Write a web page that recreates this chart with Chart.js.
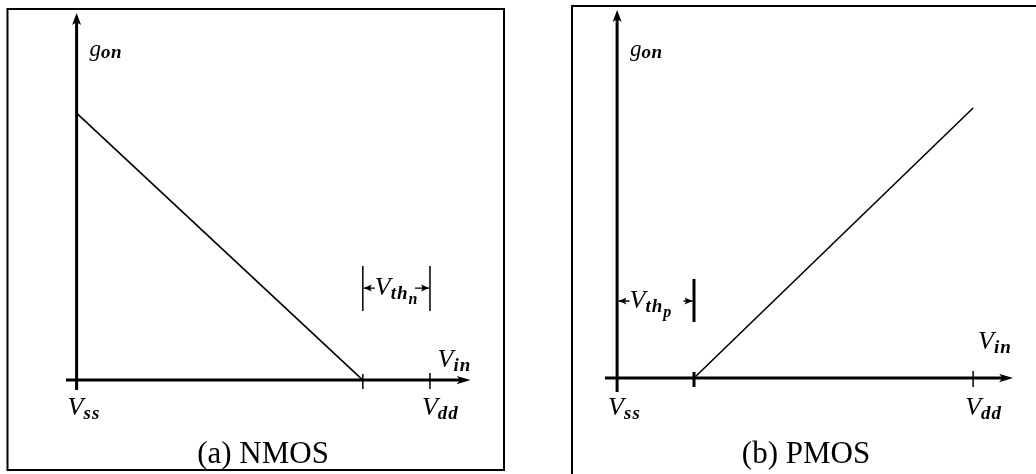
<!DOCTYPE html>
<html>
<head>
<meta charset="utf-8">
<script src="https://cdn.jsdelivr.net/npm/chart.js@4.4.1/dist/chart.umd.min.js"></script>
<style>
  html, body { margin: 0; padding: 0; background: #fff; }
  #wrap { position: relative; width: 1036px; height: 474px; overflow: hidden; }
  canvas { position: absolute; top: 0; }
  #nmos { left: 0; }
  #pmos { left: 540px; }
</style>
</head>
<body>
<div id="wrap">
  <canvas id="nmos" width="540" height="474"></canvas>
  <canvas id="pmos" width="496" height="474"></canvas>
</div>
<script>
// Input voltage is normalised: Vss = 0, Vdd = 1; g_on is normalised to its peak.
const VSS = 0, VDD = 1;

// NMOS: g_on falls linearly and reaches zero at Vdd - Vth_n
const vthN = 0.19;
const nmosVin = [0, 0.81];
const nmosGon = [1, 0];

// PMOS: g_on is zero up to Vss + Vth_p, then rises to its peak at Vdd
const vthP = 0.216;
const pmosVin = [0.216, 1];
const pmosGon = [0, 1];

const tickLabels = [['V', 'ss'], ['V', 'dd']];
const yAxisLabel = ['g', 'on'];
const xAxisLabel = ['V', 'in'];
const panelTitles = ['(a) NMOS', '(b) PMOS'];

const SERIF = '"Liberation Serif", "Times New Roman", serif';

// Filled arrow head with a slightly hollowed back; angle 0 points to +x
function arrowHead(ctx, x, y, angle, len, half) {
  ctx.save();
  ctx.translate(x, y);
  ctx.rotate(angle);
  ctx.beginPath();
  ctx.moveTo(0, 0);
  ctx.lineTo(-len, -half);
  ctx.quadraticCurveTo(-len * 0.65, 0, -len, half);
  ctx.closePath();
  ctx.fill();
  ctx.restore();
}

// Italic math label built from [text, size, baselineShift, weight, spacing] pieces
function mathText(ctx, x, y, pieces) {
  let cx = x;
  for (const [t, size, dy, w, sp] of pieces) {
    ctx.font = `italic ${w || 400} ${size}px ${SERIF}`;
    ctx.letterSpacing = (sp || 0) + 'px';
    ctx.fillText(t, cx, y + dy);
    cx += ctx.measureText(t).width;
  }
  ctx.letterSpacing = '0px';
  return cx;
}

function symbol(pair, extra) {
  const p = [[pair[0], 26, 0, 500], [pair[1], 19, 4, 700, 1]];
  if (extra) p.push([extra, 16, 9, 700]);
  return p;
}

const diagram = {
  id: 'mosDiagram',
  afterDatasetsDraw(chart, args, o) {
    const { ctx, chartArea: a, scales: { x, y } } = chart;
    const x0 = x.getPixelForValue(VSS);
    const xd = x.getPixelForValue(VDD);
    const y0 = y.getPixelForValue(0);
    const xt = x.getPixelForValue(o.threshold);

    ctx.save();
    ctx.fillStyle = '#000';
    ctx.strokeStyle = '#000';
    ctx.textBaseline = 'alphabetic';

    // panel frame
    ctx.lineWidth = 2;
    ctx.strokeRect(o.frame[0], o.frame[1], o.frame[2], o.frame[3]);

    // axes with arrows
    ctx.lineWidth = 3;
    ctx.beginPath();
    ctx.moveTo(x0, a.bottom);
    ctx.lineTo(x0, a.top + 8);
    ctx.moveTo(a.left, y0);
    ctx.lineTo(a.right - 9, y0);
    ctx.stroke();
    arrowHead(ctx, x0, a.top, -Math.PI / 2, 12, 4.5);
    arrowHead(ctx, a.right, y0, 0, 14, 4.2);

    // ticks on the Vin axis
    ctx.lineWidth = o.thrTickWidth;
    ctx.beginPath();
    ctx.moveTo(xt, y0 - 6); ctx.lineTo(xt, y0 + 9);
    ctx.stroke();
    ctx.lineWidth = 1.5;
    ctx.beginPath();
    ctx.moveTo(xd, y0 - 7); ctx.lineTo(xd, y0 + 9);
    ctx.stroke();

    // axis and tick labels
    ctx.textAlign = 'left';
    mathText(ctx, x0 + 13, 56, [[yAxisLabel[0], 23, 0, 500], [yAxisLabel[1], 19, 2, 700, 0.5]]);
    mathText(ctx, a.right + o.vinDx, y0 + o.vinDy, symbol(xAxisLabel));
    mathText(ctx, x0 - 9, 415, symbol(tickLabels[0]));
    mathText(ctx, xd - 8, 415, symbol(tickLabels[1]));

    // threshold dimension marker
    const m = o.marker;
    const yA = y0 - m.arrow;
    ctx.lineWidth = m.barWidth;
    ctx.beginPath();
    for (const bx of m.bars === 'both' ? [xt, xd] : [xt]) {
      ctx.moveTo(bx, y0 - m.top);
      ctx.lineTo(bx, y0 - m.bottom);
    }
    ctx.stroke();
    const leftEnd = m.bars === 'both' ? xt + 1 : x0 + 1.5;
    const rightEnd = m.bars === 'both' ? xd - 1 : xt - 1.5;
    ctx.lineWidth = 1.4;
    ctx.beginPath();
    ctx.moveTo(leftEnd, yA); ctx.lineTo(leftEnd + 11, yA);
    ctx.moveTo(rightEnd - m.rightStem, yA); ctx.lineTo(rightEnd, yA);
    ctx.stroke();
    arrowHead(ctx, leftEnd, yA, Math.PI, 8, 3.5);
    arrowHead(ctx, rightEnd, yA, 0, 8, 3.5);
    mathText(ctx, leftEnd + 11, yA + 7, symbol(['V', 'th'], m.sub));

    // caption
    ctx.font = `31px ${SERIF}`;
    ctx.textAlign = 'center';
    ctx.fillText(o.title, o.titleX, 463);

    ctx.restore();
  }
};

function makePanel(id, vin, gon, scales, padding, opts) {
  return new Chart(document.getElementById(id), {
    type: 'scatter',
    data: {
      datasets: [{
        data: vin.map((v, i) => ({ x: v, y: gon[i] })),
        showLine: true,
        borderColor: '#000',
        borderWidth: 1.6,
        pointRadius: 0,
        fill: false
      }]
    },
    options: {
      responsive: false,
      animation: false,
      devicePixelRatio: 1,
      layout: { padding },
      scales: {
        x: { type: 'linear', display: false, min: scales.x[0], max: scales.x[1] },
        y: { type: 'linear', display: false, min: scales.y[0], max: scales.y[1] }
      },
      plugins: {
        legend: { display: false },
        tooltip: { enabled: false },
        mosDiagram: opts
      }
    },
    plugins: [diagram]
  });
}

makePanel('nmos', nmosVin, nmosGon,
  { x: [-0.03, 1.115], y: [-0.037, 1.375] },
  { left: 66, right: 69.4, top: 13, bottom: 84 },
  {
    frame: [7.5, 9, 496.5, 461],
    threshold: VDD - vthN,
    thrTickWidth: 1.5,
    vinDx: -33, vinDy: -13,
    marker: { bars: 'both', barWidth: 1.5, top: 114, bottom: 69, arrow: 92, sub: 'n', rightStem: 14 },
    title: panelTitles[0], titleX: 263
  });

makePanel('pmos', pmosVin, pmosGon,
  { x: [-0.034, 1.112], y: [-0.052, 1.363] },
  { left: 65, right: 23, top: 10, bottom: 82 },
  {
    frame: [32, 6, 700, 700],
    threshold: VSS + vthP,
    thrTickWidth: 3,
    vinDx: -35, vinDy: -29,
    marker: { bars: 'one', barWidth: 3, top: 99, bottom: 56, arrow: 77, sub: 'p', rightStem: 9 },
    title: panelTitles[1], titleX: 266
  });
</script>
</body>
</html>
